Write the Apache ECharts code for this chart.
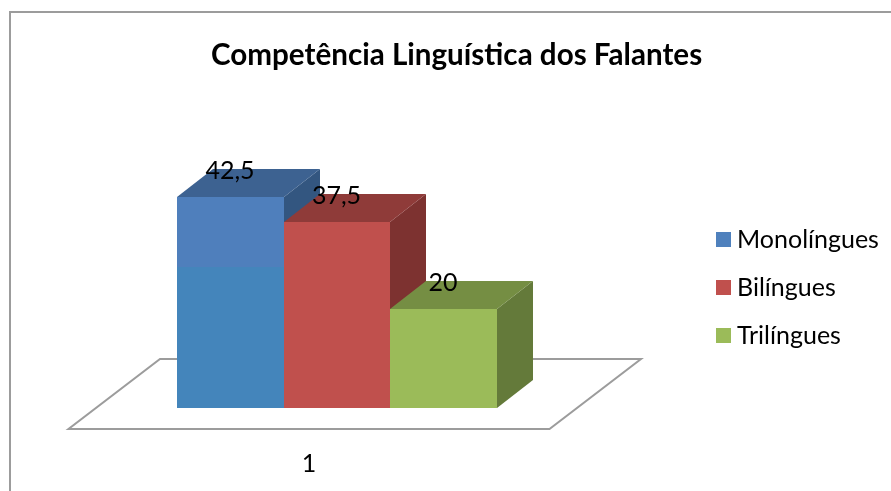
<!DOCTYPE html>
<html>
<head>
<meta charset="utf-8">
<style>html,body{margin:0;padding:0;background:#fff}#c{width:891px;height:491px}</style>
<script src="https://cdn.jsdelivr.net/npm/echarts@6/dist/echarts.min.js"></script>
</head>
<body>
<div id="c"></div>
<script>
var titleText = 'Competência Linguística dos Falantes';
var categories = ['1'];
var seriesNames = ['Monolíngues', 'Bilíngues', 'Trilíngues'];
var monolingues = [42.5];
var bilingues = [37.5];
var trilingues = [20];
var labelsText = ['42,5', '37,5', '20'];
var frontColors = ['#4F81BD', '#C0504D', '#9BBB59'];
var topColors = ['#3D6291', '#8F3B39', '#758E43'];
var sideColors = ['#335680', '#7D3230', '#647A3A'];
var FONT = 'Lato';

var chart = echarts.init(document.getElementById('c'), null, {renderer: 'canvas'});
var DX = 36, DY = -28, SLOT = 0.2214, SHIFT = 28;

function bar(idx) {
  return function (params, api) {
    var base = api.coord([api.value(0), 0]);
    var top = api.coord([api.value(0), api.value(1)]);
    var w = api.size([1, 0])[0] * SLOT;
    var x0 = Math.round(base[0] + SHIFT + (idx - 1.5) * w), x1 = Math.round(base[0] + SHIFT + (idx - 0.5) * w);
    var y0 = Math.round(base[1]), y1 = Math.round(top[1]);
    var front = frontColors[idx];
    if (idx === 0) {
      front = new echarts.graphic.LinearGradient(0, 0, 0, 1, [
        {offset: 0, color: '#4F7FBC'}, {offset: 0.33, color: '#4F7FBC'},
        {offset: 0.33, color: '#4485BB'}, {offset: 1, color: '#4485BB'}
      ]);
    }
    return {
      type: 'group',
      children: [
        {type: 'polygon', shape: {points: [[x1, y1], [x1 + DX, y1 + DY], [x1 + DX, y0 + DY], [x1, y0]]}, style: {fill: sideColors[idx]}},
        {type: 'polygon', shape: {points: [[x0, y1], [x0 + DX, y1 + DY], [x1 + DX, y1 + DY], [x1, y1]]}, style: {fill: topColors[idx]}},
        {type: 'rect', shape: {x: x0, y: y1, width: x1 - x0, height: y0 - y1}, style: {fill: front}},
        {type: 'text', style: {x: (x0 + x1) / 2 - 0.5, y: y1 + DY + 2, text: labelsText[idx], align: 'center', verticalAlign: 'middle', fill: '#000', font: '25px ' + FONT}}
      ]
    };
  };
}

function floor(params, api) {
  var cs = params.coordSys;
  var yf = cs.y + cs.height + 21;
  var L = cs.x, R = cs.x + cs.width;
  var sx = 91.5, sy = -70;
  return {
    type: 'polygon',
    shape: {points: [[L, yf], [R, yf], [R + sx, yf + sy], [L + sx, yf + sy]]},
    style: {fill: '#fff', stroke: '#9C9C9C', lineWidth: 2}
  };
}

function makeSeries(idx, values) {
  return {
    type: 'custom',
    name: seriesNames[idx],
    renderItem: bar(idx),
    itemStyle: {color: frontColors[idx]},
    encode: {x: 0, y: 1},
    data: values.map(function (v, i) { return [i, v]; }),
    z: 3 + idx
  };
}

chart.setOption({
  animation: false,
  backgroundColor: '#fff',
  title: {
    text: titleText, left: 211, top: 40,
    padding: 0,
    textStyle: {fontFamily: FONT, fontSize: 29.6, fontWeight: 'bold', color: '#000'}
  },
  legend: {
    data: seriesNames, orient: 'vertical', left: 716, top: 227, padding: 0,
    itemWidth: 15, itemHeight: 15, itemGap: 23, icon: 'rect',
    textStyle: {fontFamily: FONT, fontSize: 25, lineHeight: 25, color: '#000', padding: [0, 0, 0, 1]}
  },
  grid: {left: 68.5, width: 481, top: 159.5, height: 248.5},
  xAxis: {
    type: 'category', data: categories,
    axisLine: {show: false}, axisTick: {show: false},
    axisLabel: {margin: 43, fontFamily: FONT, fontSize: 25, color: '#000'}
  },
  yAxis: {type: 'value', min: 0, max: 50, show: false},
  series: [
    {type: 'custom', name: 'floor', renderItem: floor, data: [[0, 0]], encode: {x: 0, y: 1}, silent: true, z: 1},
    makeSeries(0, monolingues),
    makeSeries(1, bilingues),
    makeSeries(2, trilingues)
  ],
  graphic: [{
    type: 'polyline', silent: true,
    shape: {points: [[10, 491], [10, 12], [891, 12]]},
    style: {fill: 'none', stroke: '#9C9C9C', lineWidth: 2}
  }]
});
</script>
</body>
</html>
